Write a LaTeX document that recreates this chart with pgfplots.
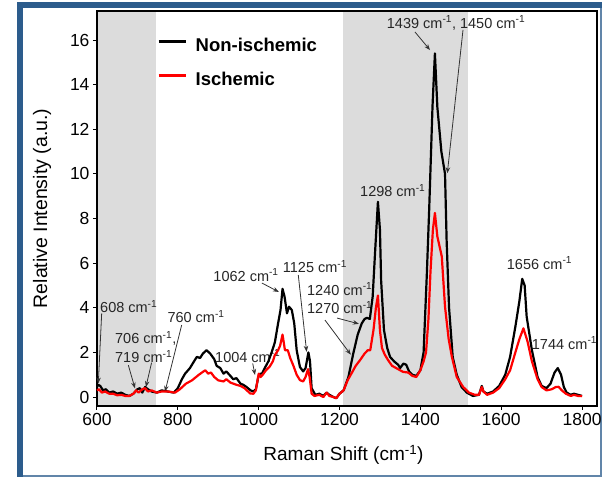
\documentclass[border=0pt]{standalone}
\usepackage{pgfplots}
\pgfplotsset{compat=1.18}
\usepackage{fontspec}
\setmainfont{Liberation Sans}
\usetikzlibrary{arrows.meta}
\definecolor{frameblue}{RGB}{44,92,140}
\definecolor{bandgray}{RGB}{220,220,220}
\definecolor{myred}{RGB}{255,0,0}
\tikzset{
  anno/.style={font=\fontsize{14.5}{17}\selectfont, inner sep=0pt, anchor=west, text=black!85},
  arr/.style={draw=black!80, line width=0.8pt, -{Stealth[length=6pt,width=4.5pt]}},
}

\pgfplotstableread{
x y
600 0.45
603 0.55
608 0.5
615 0.3
622 0.35
630 0.2
640 0.25
650 0.15
660 0.2
670 0.1
680 0.05
690 0.15
700 0.35
706 0.4
712 0.2
719 0.45
726 0.35
735 0.25
748 0.2
760 0.3
775 0.25
790 0.2
800 0.4
810 0.8
818 1.05
830 1.3
840 1.6
847 1.8
855 1.75
862 1.95
871 2.1
880 1.95
890 1.7
896 1.4
905 1.3
913 1.05
920 1.15
930 0.95
937 0.8
945 0.85
955 0.6
962 0.55
970 0.45
980 0.3
987 0.25
993 0.35
999 0.9
1004 1.05
1008 1.05
1015 1.3
1024 1.6
1032 2.0
1040 2.45
1048 3.3
1054 3.9
1059 4.85
1064 4.5
1070 3.75
1075 4.05
1082 3.9
1088 3.3
1094 2.1
1102 1.35
1110 1.15
1116 1.3
1123 2.0
1127 1.6
1131 0.4
1140 0.1
1150 0.15
1160 0.05
1168 0.2
1175 0.1
1185 0.0
1192 -0.05
1200 0.15
1210 0.3
1222 0.9
1234 1.95
1245 2.8
1255 3.3
1262 3.5
1268 3.55
1275 3.5
1282 4.5
1288 6.5
1295 8.75
1300 7.5
1303 5.2
1310 3.0
1318 2.2
1325 1.8
1335 1.6
1345 1.45
1350 1.3
1358 1.5
1365 1.45
1372 1.15
1380 1.0
1390 0.95
1400 1.2
1408 2.0
1416 5.5
1422 8.5
1430 13.0
1436 15.4
1442 13.0
1452 11.0
1461 10.0
1465 7.0
1471 4.0
1480 1.8
1490 1.0
1502 0.45
1515 0.2
1530 0.05
1545 0.1
1552 0.5
1556 0.25
1565 0.15
1580 0.25
1595 0.5
1610 1.0
1622 1.8
1635 3.15
1645 4.3
1652 5.3
1658 5.0
1663 3.6
1676 2.1
1690 0.9
1700 0.5
1712 0.4
1722 0.6
1732 1.1
1740 1.3
1748 1.0
1755 0.45
1762 0.2
1772 0.1
1780 0.15
1790 0.1
1800 0.05
}\nonisch

\pgfplotstableread{
x y
600 0.3
605 0.35
612 0.2
620 0.25
630 0.15
640 0.15
650 0.08
660 0.1
670 0.05
680 0.05
690 0.15
697 0.3
703 0.2
712 0.35
719 0.4
726 0.25
735 0.3
748 0.2
760 0.25
775 0.25
793 0.2
805 0.35
820 0.6
835 0.75
852 1.0
862 1.13
868 1.2
875 1.05
882 1.1
890 0.9
900 0.75
913 0.7
920 0.8
930 0.65
945 0.55
955 0.5
965 0.4
979 0.16
987 0.15
993 0.3
1000 1.05
1005 0.9
1010 1.0
1018 1.2
1027 1.36
1035 1.6
1040 1.88
1048 2.1
1053 2.3
1059 2.8
1065 2.1
1072 2.1
1078 1.75
1086 1.4
1094 1.0
1102 0.76
1110 0.7
1116 0.9
1122 1.25
1126 0.9
1131 0.15
1138 0.05
1150 0.1
1160 0.0
1168 0.2
1175 0.05
1185 0.0
1192 -0.05
1200 0.15
1210 0.3
1220 0.75
1230 1.07
1240 1.4
1251 1.66
1262 1.95
1270 2.1
1276 2.1
1284 3.0
1290 4.0
1295 4.55
1300 3.0
1305 2.2
1312 1.9
1320 1.66
1330 1.4
1345 1.25
1357 1.13
1370 1.1
1380 0.95
1390 0.9
1400 1.2
1408 1.6
1414 2.0
1420 3.5
1425 5.6
1431 7.5
1436 8.25
1442 7.2
1453 6.3
1461 4.05
1470 2.6
1478 1.8
1490 0.9
1506 0.45
1520 0.2
1535 0.1
1545 0.1
1552 0.45
1556 0.25
1565 0.1
1580 0.2
1595 0.4
1610 0.8
1622 1.2
1635 2.0
1645 2.6
1655 3.08
1665 2.5
1676 1.6
1690 0.8
1700 0.45
1712 0.3
1725 0.35
1735 0.45
1742 0.46
1750 0.3
1760 0.15
1772 0.05
1780 0.1
1790 0.05
1800 0.05
}\isch

\begin{document}
\begin{tikzpicture}[x=1pt,y=1pt]
\path[use as bounding box] (0,0) rectangle (606,479);
% outer frame
\fill[frameblue!75] (600,2) rectangle (602,477);
\fill[frameblue!75] (17,2) rectangle (602,4);
\fill[frameblue] (17,2) rectangle (23,477);
\fill[frameblue] (17,471) rectangle (602,477);
% axis box as filled strips (drawn before the axis)
\fill[black] (95.6,71.6) rectangle (598.4,74.4);
\fill[black] (95.6,466.6) rectangle (598.4,469.4);
\fill[black] (95.6,71.6) rectangle (98.4,469.4);
\fill[black] (595.6,71.6) rectangle (598.4,469.4);

\begin{axis}[
  at={(97pt,73pt)}, anchor=south west,
  width=500pt, height=395pt, scale only axis,
  xmin=600, xmax=1837, ymin=-0.4, ymax=17.3,
  xtick={600,800,...,1800}, ytick={0,2,...,16},
  xtick pos=left, ytick pos=left,
  tick align=outside, major tick length=4pt,
  tick style={line width=1pt, black},
  axis line style={line width=2.8pt, black},
  clip=false,
  /pgf/number format/assume math mode=true,
  /pgf/number format/set thousands separator={},
  ticklabel style={font=\fontsize{17.5}{20}\selectfont},
  xlabel={Raman Shift (cm\textsuperscript{-1})},
  ylabel={Relative Intensity (a.u.)},
  xlabel style={font=\fontsize{19}{22}\selectfont, at={(axis description cs:0.493,-0.124)}, anchor=center},
  ylabel style={font=\fontsize{19.5}{22}\selectfont, at={(axis description cs:-0.11,0.5)}, anchor=center},
  legend style={at={(rel axis cs:0.12,0.936)}, anchor=north west, draw=none, fill=none,
    font=\bfseries\fontsize{18.5}{22}\selectfont, row sep=15pt, inner sep=0pt},
  legend cell align=left,
  legend image code/.code={\draw[#1, line width=3pt] (0pt,4pt) -- (27pt,4pt); \path[draw=none] (0pt,-4pt) -- (35pt,-4pt);},
]
\fill[bandgray] (axis cs:603.5,-0.337) rectangle (axis cs:745,17.237);
\fill[bandgray] (axis cs:1208,-0.337) rectangle (axis cs:1519,17.237);

\node[anno] at (axis cs:1316.7,16.76) {1439 cm\textsuperscript{-1}, 1450 cm\textsuperscript{-1}};
\node[anno] at (axis cs:1250.7,9.26) {1298 cm\textsuperscript{-1}};
\node[anno] at (axis cs:1613.6,6.0) {1656 cm\textsuperscript{-1}};
\node[anno] at (axis cs:1675.5,2.42) {1744 cm\textsuperscript{-1}};
\node[anno] at (axis cs:887.7,5.47) {1062 cm\textsuperscript{-1}};
\node[anno] at (axis cs:1059.4,5.84) {1125 cm\textsuperscript{-1}};
\node[anno] at (axis cs:1119.5,4.84) {1240 cm\textsuperscript{-1}};
\node[anno] at (axis cs:1119.5,4.01) {1270 cm\textsuperscript{-1}};
\node[anno] at (axis cs:607.4,4.05) {608 cm\textsuperscript{-1}};
\node[anno] at (axis cs:644.5,2.64) {706 cm\textsuperscript{-1},};
\node[anno] at (axis cs:644.5,1.81) {719 cm\textsuperscript{-1}};
\node[anno] at (axis cs:774,3.6) {760 cm\textsuperscript{-1}};
\node[anno] at (axis cs:892,1.84) {1004 cm\textsuperscript{-1}};

\draw[arr] (axis cs:1386.7,16.36) -- (axis cs:1423.9,15.55);
\draw[arr] (axis cs:1505.5,16.45) -- (axis cs:1466.7,10.03);
\draw[arr] (axis cs:1008,5.11) -- (axis cs:1050,4.71);
\draw[arr] (axis cs:1098,5.47) -- (axis cs:1118.6,2.03);
\draw[arr] (axis cs:1164,3.45) -- (axis cs:1228,1.9);
\draw[arr] (axis cs:1194,3.54) -- (axis cs:1248,3.28);
\draw[arr] (axis cs:611.6,3.75) -- (axis cs:603.2,0.61);
\draw[arr] (axis cs:677.5,1.43) -- (axis cs:694,0.39);
\draw[arr] (axis cs:735,1.54) -- (axis cs:721,0.45);
\draw[arr] (axis cs:809.5,3.23) -- (axis cs:768.2,0.24);
\draw[arr] (axis cs:985.2,1.51) -- (axis cs:990.9,0.99);

\addplot[black, line width=2.2pt, line join=round] table[x=x,y=y] {\nonisch};
\addlegendentry{Non-ischemic}
\addplot[myred, line width=2.2pt, line join=round] table[x=x,y=y] {\isch};
\addlegendentry{Ischemic}
\end{axis}
\end{tikzpicture}
\end{document}
